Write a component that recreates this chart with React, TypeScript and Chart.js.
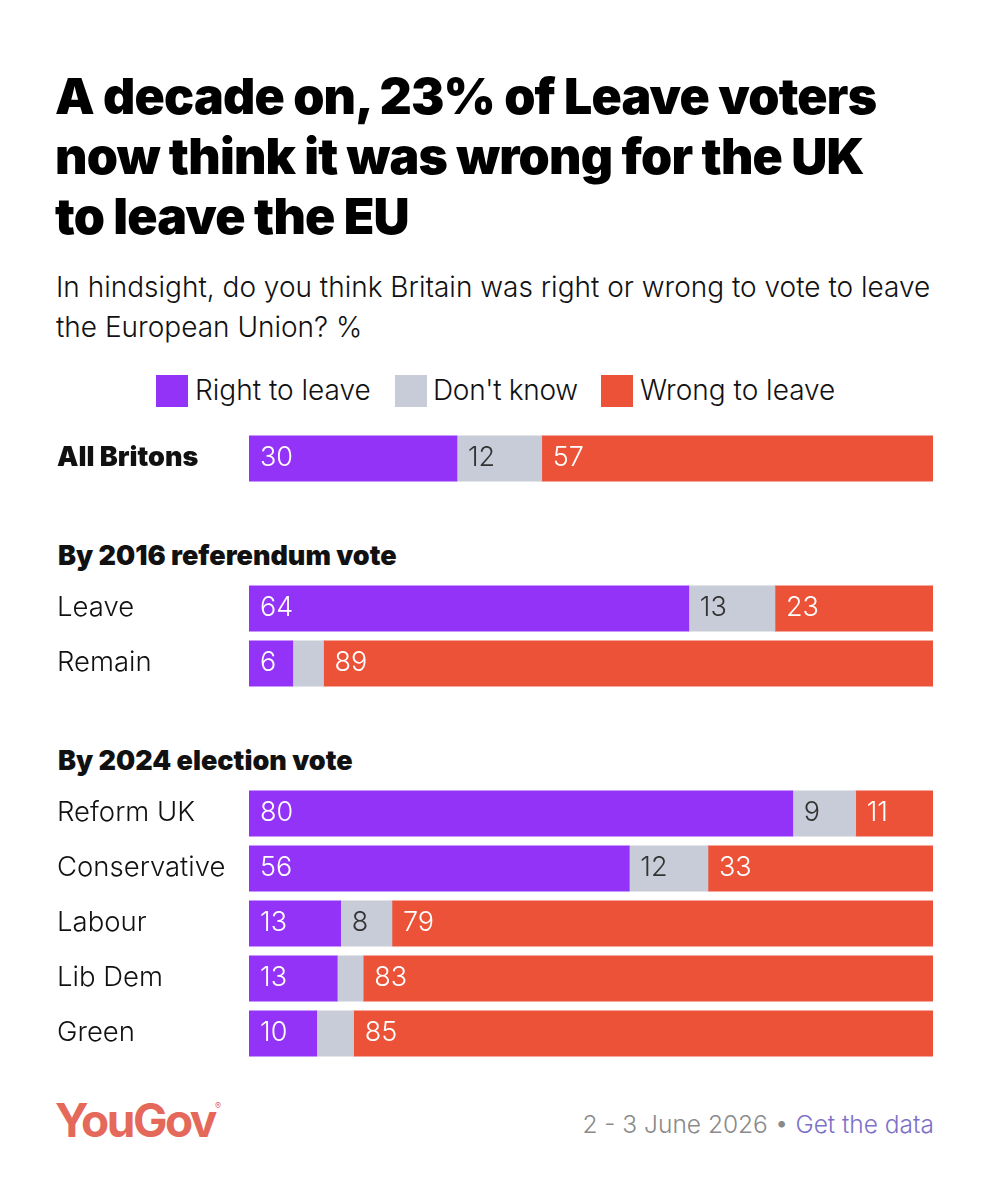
import React, { useEffect, useRef } from 'react';
import { Chart, registerables, ChartConfiguration, Plugin } from 'chart.js';

Chart.register(...registerables);

const FONT = 'Inter, "Noto Sans", sans-serif';
const PURPLE = '#9333f7';
const GREY = '#c8ccd8';
const RED = '#ec5238';

const seriesNames = ['Right to leave', "Don't know", 'Wrong to leave'];
const seriesColors = [PURPLE, GREY, RED];

const allLabels = ['All Britons'];
const allRight = [30.4];
const allDontKnow = [12.4];
const allWrong = [57.2];

const refLabels = ['Leave', 'Remain'];
const refRight = [64.3, 6.4];
const refDontKnow = [12.6, 4.5];
const refWrong = [23.1, 89.1];

const voteLabels = ['Reform UK', 'Conservative', 'Labour', 'Lib Dem', 'Green'];
const voteRight = [79.5, 55.6, 13.4, 12.9, 9.9];
const voteDontKnow = [9.2, 11.5, 7.5, 3.8, 5.4];
const voteWrong = [11.3, 32.9, 79.1, 83.3, 84.7];

// segments thinner than this carry no number
const MIN_LABELLED = 6;

const barLabels: Plugin<'bar'> = {
  id: 'barLabels',
  afterDatasetsDraw(chart) {
    const { ctx } = chart;
    ctx.save();
    ctx.font = `300 27px ${FONT}`;
    ctx.textBaseline = 'middle';
    ctx.textAlign = 'left';
    chart.data.datasets.forEach((ds, i) => {
      chart.getDatasetMeta(i).data.forEach((bar: any, j) => {
        const v = ds.data[j] as number;
        if (v < MIN_LABELLED) return;
        ctx.fillStyle = i === 1 ? '#333' : '#fff';
        ctx.fillText(String(Math.round(v)), bar.base + 11, bar.y - 1);
      });
    });
    ctx.restore();
  },
};

interface PanelProps {
  labels: string[];
  right: number[];
  dontKnow: number[];
  wrong: number[];
  top: number;
  bold?: boolean;
}

function Panel({ labels, right, dontKnow, wrong, top, bold }: PanelProps) {
  const canvasRef = useRef<HTMLCanvasElement | null>(null);
  useEffect(() => {
    if (!canvasRef.current) return;
    const values = [right, dontKnow, wrong];
    const config: ChartConfiguration<'bar'> = {
      type: 'bar',
      data: {
        labels,
        datasets: seriesNames.map((name, i) => ({
          label: name,
          data: values[i],
          backgroundColor: seriesColors[i],
          barThickness: 45.5,
          borderWidth: 0,
        })),
      },
      options: {
        indexAxis: 'y',
        responsive: false,
        animation: false,
        layout: { padding: 0 },
        plugins: { legend: { display: false }, tooltip: { enabled: false } },
        scales: {
          x: { stacked: true, min: 0, max: 100, display: false },
          y: {
            stacked: true,
            grid: { display: false },
            border: { display: false },
            // the label half-heights would otherwise shrink the plot area
            afterFit: (axis) => {
              axis.width = 192;
              axis.paddingTop = 0;
              axis.paddingBottom = 0;
            },
            ticks: {
              crossAlign: 'far',
              padding: 0,
              autoSkip: false,
              labelOffset: -1,
              color: '#111',
              font: { family: FONT, size: bold ? 27 : 27.5, weight: bold ? 900 : 300 },
            },
          },
        },
      },
      plugins: [barLabels],
    };
    const c = new Chart(canvasRef.current, config);
    return () => { c.destroy(); };
  }, []);
  return (
    <canvas
      ref={canvasRef}
      width={876}
      height={labels.length * 55}
      style={{ position: 'absolute', left: 57, top, width: 876, height: labels.length * 55 }}
    />
  );
}

const abs = (left: number, top: number, extra: React.CSSProperties = {}): React.CSSProperties => ({
  position: 'absolute', left, top, whiteSpace: 'nowrap', ...extra,
});

const heading: React.CSSProperties = { fontSize: 27, fontWeight: 900, color: '#111', lineHeight: '32px' };

export default function App() {
  const legendX = [156, 395, 601];
  const legendTextX = [195, 433, 640];
  return (
    <div style={{ position: 'absolute', left: 0, top: 0, width: 990, height: 1200, background: '#fff', fontFamily: FONT, overflow: 'hidden' }}>
      <div style={abs(55, 66, { fontSize: 50, fontWeight: 900, lineHeight: '60px', color: '#000', letterSpacing: -0.8 })}>
        A decade on, 23% of Leave voters<br />now think it was wrong for the UK<br />to leave the EU
      </div>
      <div style={abs(56, 267, { fontSize: 28, fontWeight: 300, lineHeight: '40px', color: '#111' })}>
        In hindsight, do you think Britain was right or wrong to vote to leave<br />the European Union? %
      </div>

      {seriesNames.map((name, i) => (
        <React.Fragment key={name}>
          <div style={abs(legendX[i], 375, { width: 32, height: 32, background: seriesColors[i] })} />
          <div style={abs(legendTextX[i], 374, { fontSize: 28, fontWeight: 300, lineHeight: '32px', color: '#111', letterSpacing: i === 1 ? -0.3 : 0 })}>{name}</div>
        </React.Fragment>
      ))}

      <Panel labels={allLabels} right={allRight} dontKnow={allDontKnow} wrong={allWrong} top={431} bold />
      <div style={abs(58, 540, heading)}>By 2016 referendum vote</div>
      <Panel labels={refLabels} right={refRight} dontKnow={refDontKnow} wrong={refWrong} top={581} />
      <div style={abs(58, 745, heading)}>By 2024 election vote</div>
      <Panel labels={voteLabels} right={voteRight} dontKnow={voteDontKnow} wrong={voteWrong} top={786} />

      <div style={abs(55, 1092, { fontSize: 46, fontWeight: 700, lineHeight: '56px', color: '#e4695b', letterSpacing: -2.5 })}>
        YouGov<sup style={{ fontSize: 9, fontWeight: 400, letterSpacing: 0, verticalAlign: 28, lineHeight: 0 }}>®</sup>
      </div>
      <div style={{ ...abs(0, 1108, { fontSize: 24.5, fontWeight: 300, lineHeight: '32px', color: '#8a8a8a' }), left: 'auto', right: 56 }}>
        2 - 3 June 2026 • <span style={{ color: '#7d70c9' }}>Get the data</span>
      </div>
    </div>
  );
}
